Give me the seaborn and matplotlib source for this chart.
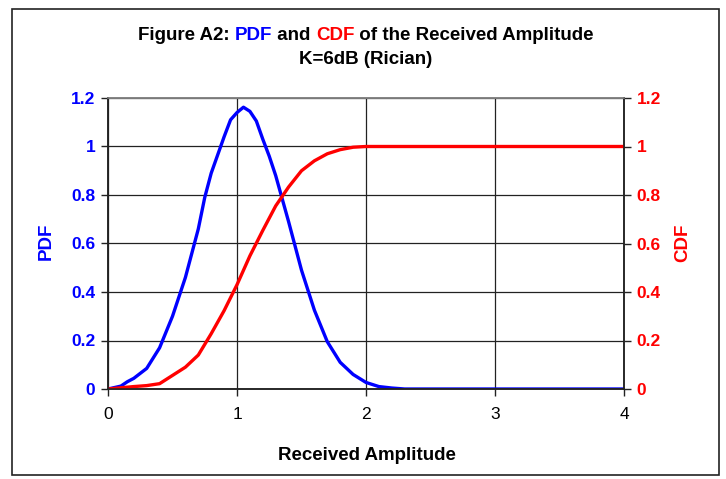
import matplotlib
matplotlib.use("Agg")
import matplotlib.pyplot as plt
import seaborn as sns
import pandas as pd
from matplotlib.patches import Rectangle

# ---- data ----
pdf_x = [0, 0.1, 0.15, 0.2, 0.3, 0.4, 0.5, 0.6, 0.7, 0.75, 0.8, 0.9, 0.95, 1.0, 1.05,
         1.1, 1.15, 1.2, 1.25, 1.3, 1.4, 1.5, 1.6, 1.7, 1.8, 1.9, 2.0, 2.1, 2.2, 2.3,
         2.5, 3.0, 3.5, 4.0]
pdf_y = [0, 0.012, 0.03, 0.044, 0.085, 0.17, 0.30, 0.46, 0.66, 0.79, 0.89, 1.04, 1.11,
         1.14, 1.162, 1.145, 1.105, 1.03, 0.96, 0.88, 0.69, 0.49, 0.325, 0.195, 0.11,
         0.06, 0.027, 0.01, 0.004, 0, 0, 0, 0, 0]
cdf_x = [0, 0.2, 0.3, 0.4, 0.5, 0.6, 0.7, 0.8, 0.9, 1.0, 1.1, 1.2, 1.3, 1.4, 1.5, 1.6,
         1.7, 1.8, 1.9, 2.0, 2.5, 3.0, 3.5, 4.0]
cdf_y = [0, 0.01, 0.014, 0.022, 0.056, 0.09, 0.14, 0.228, 0.323, 0.43, 0.549, 0.654,
         0.755, 0.833, 0.9, 0.941, 0.97, 0.987, 0.997, 1.0, 1.0, 1.0, 1.0, 1.0]

x_ticks = [0, 1, 2, 3, 4]
x_tick_labels = ["0", "1", "2", "3", "4"]
y_ticks = [0, 0.2, 0.4, 0.6, 0.8, 1.0, 1.2]
y_tick_labels = ["0", "0.2", "0.4", "0.6", "0.8", "1", "1.2"]

title_line1 = [("Figure A2: ", "black"), ("PDF", "#0000FF"), (" and ", "black"),
               ("CDF", "#FF0000"), (" of the Received Amplitude", "black")]
title_line2 = "K=6dB (Rician)"

BLUE = "#0000FF"
RED = "#FF0000"

sns.set_theme(style="white")
plt.rcParams["font.family"] = ["Liberation Sans", "DejaVu Sans"]

W, H = 726, 479
fig = plt.figure(figsize=(W / 100, H / 100), dpi=100)
fig.patch.set_facecolor("white")

# figure border
fig.patches.append(Rectangle((12 / W, (H - 475) / H), 707 / W, 466 / H,
                             transform=fig.transFigure, fill=False,
                             edgecolor="#222222", linewidth=1.2))

ax = fig.add_axes([108 / W, (H - 389) / H, 516 / W, 291 / H])
ax2 = ax.twinx()

df_pdf = pd.DataFrame({"x": pdf_x, "y": pdf_y})
df_cdf = pd.DataFrame({"x": cdf_x, "y": cdf_y})

sns.lineplot(data=df_pdf, x="x", y="y", ax=ax, color=BLUE, linewidth=2.4, sort=False)
sns.lineplot(data=df_cdf, x="x", y="y", ax=ax2, color=RED, linewidth=2.4, sort=False)

for a in (ax, ax2):
    a.set_xlim(0, 4)
    a.set_ylim(0, 1.2)
    a.set_xlabel("")
    a.set_ylabel("")

ax.set_xticks(x_ticks)
ax.set_xticklabels(x_tick_labels, fontsize=12.5, color="black")
ax.set_yticks(y_ticks)
ax.set_yticklabels(y_tick_labels, fontsize=12.5, fontweight="bold", color=BLUE)
ax2.set_yticks(y_ticks)
ax2.set_yticklabels(y_tick_labels, fontsize=12.5, fontweight="bold", color=RED)

ax.grid(True, color="#222222", linewidth=0.9)
ax.set_axisbelow(True)

ax.tick_params(axis="x", direction="out", length=5, width=1, color="#222222", pad=8,
               bottom=True)
ax.tick_params(axis="y", direction="out", length=5, width=1, color="#222222", pad=4,
               left=True)
ax2.tick_params(axis="y", direction="out", length=5, width=1, color="#222222", pad=4,
                right=True)

for a in (ax, ax2):
    for side in ("left", "right", "bottom"):
        a.spines[side].set_color("#222222")
        a.spines[side].set_linewidth(1.1)
    a.spines["top"].set_color("#808080")
    a.spines["top"].set_linewidth(1.1)

# axis titles
fig.text(46 / W, (H - 241) / H, "PDF", rotation=90, color=BLUE, fontsize=13.5,
         fontweight="bold", ha="center", va="center")
fig.text(683 / W, (H - 243) / H, "CDF", rotation=90, color=RED, fontsize=13.5,
         fontweight="bold", ha="center", va="center")
fig.text(367 / W, (H - 455) / H, "Received Amplitude", color="black", fontsize=13.5,
         fontweight="bold", ha="center", va="center")

# multi-coloured title
renderer = fig.canvas.get_renderer()
texts, widths = [], []
for s, c in title_line1:
    t = fig.text(0, (H - 35) / H, s, color=c, fontsize=13.5, fontweight="bold",
                 ha="left", va="center")
    texts.append(t)
    widths.append(t.get_window_extent(renderer).width)
x0 = 366 - sum(widths) / 2
for t, w in zip(texts, widths):
    t.set_x(x0 / W)
    x0 += w
fig.text(366 / W, (H - 60) / H, title_line2, color="black", fontsize=13.5,
         fontweight="bold", ha="center", va="center")

fig.savefig("out.png", dpi=100)
